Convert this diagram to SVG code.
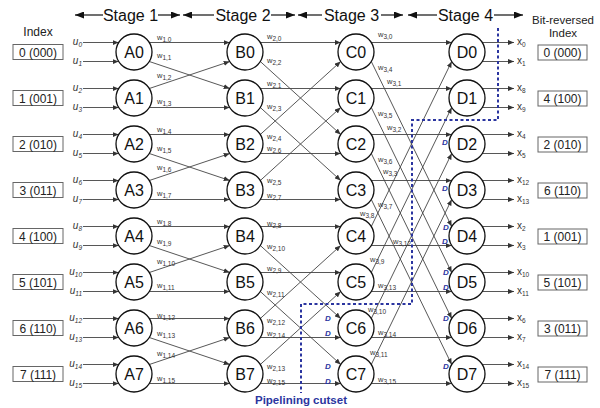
<svg xmlns="http://www.w3.org/2000/svg" width="600" height="408" viewBox="0 0 600 408">
<defs>
<marker id="ah" markerUnits="userSpaceOnUse" markerWidth="6" markerHeight="5" refX="6" refY="2.5" orient="auto"><path d="M0,0 L6,2.5 L0,5 z" fill="#333"/></marker>
<marker id="big" markerUnits="userSpaceOnUse" markerWidth="9" markerHeight="7" refX="9" refY="3.5" orient="auto"><path d="M0,0 L9,3.5 L0,7 z" fill="#111"/></marker>
<style>
text{font-family:"Liberation Sans",Arial,sans-serif}
.e{stroke:#444;stroke-width:0.9;fill:none;marker-end:url(#ah)}
.st{stroke:#111;stroke-width:1.2;marker-end:url(#big)}
.nd circle{fill:#fff;stroke:#111;stroke-width:1.3}
.nd text{font-size:16px;fill:#111;text-anchor:middle}
.box rect{fill:#fff;stroke:#666;stroke-width:1}
.box text{font-size:12px;fill:#222;text-anchor:middle}
.w{font-size:7.5px;fill:#333}
.u{font-size:10px;fill:#333;font-style:italic;text-anchor:end}
.x{font-size:10px;fill:#333}
.s{font-size:6.5px}
.dl{font-size:8px;font-weight:bold;font-style:italic;fill:#2b35a0;text-anchor:middle}
.hd{font-size:16px;fill:#111;text-anchor:middle}
.lab{font-size:12px;fill:#222;text-anchor:middle}
</style>
</defs>
<rect width="600" height="408" fill="#fff"/>

<g id="headers">
<line class="st" x1="103" y1="15" x2="75" y2="15"/><text class="hd" x="130.5" y="21">Stage 1</text><line class="st" x1="158" y1="15" x2="180" y2="15"/>
<line class="st" x1="214" y1="15" x2="183" y2="15"/><text class="hd" x="243" y="21">Stage 2</text><line class="st" x1="271" y1="15" x2="295" y2="15"/>
<line class="st" x1="322" y1="15" x2="298" y2="15"/><text class="hd" x="351.5" y="21">Stage 3</text><line class="st" x1="381" y1="15" x2="403" y2="15"/>
<line class="st" x1="437" y1="15" x2="408" y2="15"/><text class="hd" x="465.5" y="21">Stage 4</text><line class="st" x1="494" y1="15" x2="523" y2="15"/>
<text class="lab" x="38" y="36">Index</text>
<text class="lab" x="563" y="24" style="font-size:11.5px">Bit-reversed</text>
<text class="lab" x="563" y="37" style="font-size:11.5px">Index</text>
</g>

<g id="connectors">
<!-- inputs -->
<line class="e" x1="83" y1="42.5" x2="118.7" y2="42.5"/><line class="e" x1="83" y1="61.5" x2="118.7" y2="61.5"/>
<line class="e" x1="83" y1="88.5" x2="118.7" y2="88.5"/><line class="e" x1="83" y1="107.5" x2="118.7" y2="107.5"/>
<line class="e" x1="83" y1="134.5" x2="118.7" y2="134.5"/><line class="e" x1="83" y1="153.5" x2="118.7" y2="153.5"/>
<line class="e" x1="83" y1="180.5" x2="118.7" y2="180.5"/><line class="e" x1="83" y1="199.5" x2="118.7" y2="199.5"/>
<line class="e" x1="83" y1="226.5" x2="118.7" y2="226.5"/><line class="e" x1="83" y1="245.5" x2="118.7" y2="245.5"/>
<line class="e" x1="83" y1="272.5" x2="118.7" y2="272.5"/><line class="e" x1="83" y1="291.5" x2="118.7" y2="291.5"/>
<line class="e" x1="83" y1="318.5" x2="118.7" y2="318.5"/><line class="e" x1="83" y1="337.5" x2="118.7" y2="337.5"/>
<line class="e" x1="83" y1="364.5" x2="118.7" y2="364.5"/><line class="e" x1="83" y1="383.5" x2="118.7" y2="383.5"/>
<!-- stage 1 -->
<line class="e" x1="149.3" y1="42.5" x2="229.7" y2="42.5"/><line class="e" x1="149.3" y1="61.5" x2="229.7" y2="88.5"/>
<line class="e" x1="149.3" y1="88.5" x2="229.7" y2="61.5"/><line class="e" x1="149.3" y1="107.5" x2="229.7" y2="107.5"/>
<line class="e" x1="149.3" y1="134.5" x2="229.7" y2="134.5"/><line class="e" x1="149.3" y1="153.5" x2="229.7" y2="180.5"/>
<line class="e" x1="149.3" y1="180.5" x2="229.7" y2="153.5"/><line class="e" x1="149.3" y1="199.5" x2="229.7" y2="199.5"/>
<line class="e" x1="149.3" y1="226.5" x2="229.7" y2="226.5"/><line class="e" x1="149.3" y1="245.5" x2="229.7" y2="272.5"/>
<line class="e" x1="149.3" y1="272.5" x2="229.7" y2="245.5"/><line class="e" x1="149.3" y1="291.5" x2="229.7" y2="291.5"/>
<line class="e" x1="149.3" y1="318.5" x2="229.7" y2="318.5"/><line class="e" x1="149.3" y1="337.5" x2="229.7" y2="364.5"/>
<line class="e" x1="149.3" y1="364.5" x2="229.7" y2="337.5"/><line class="e" x1="149.3" y1="383.5" x2="229.7" y2="383.5"/>
<!-- stage 2 -->
<line class="e" x1="260.3" y1="42.5" x2="340.7" y2="42.5"/><line class="e" x1="260.3" y1="61.5" x2="340.7" y2="134.5"/>
<line class="e" x1="260.3" y1="88.5" x2="340.7" y2="88.5"/><line class="e" x1="260.3" y1="107.5" x2="340.7" y2="180.5"/>
<line class="e" x1="260.3" y1="134.5" x2="340.7" y2="61.5"/><line class="e" x1="260.3" y1="153.5" x2="340.7" y2="153.5"/>
<line class="e" x1="260.3" y1="180.5" x2="340.7" y2="107.5"/><line class="e" x1="260.3" y1="199.5" x2="340.7" y2="199.5"/>
<line class="e" x1="260.3" y1="226.5" x2="340.7" y2="226.5"/><line class="e" x1="260.3" y1="245.5" x2="340.7" y2="318.5"/>
<line class="e" x1="260.3" y1="272.5" x2="340.7" y2="272.5"/><line class="e" x1="260.3" y1="291.5" x2="340.7" y2="364.5"/>
<line class="e" x1="260.3" y1="318.5" x2="340.7" y2="245.5"/><line class="e" x1="260.3" y1="337.5" x2="340.7" y2="337.5"/>
<line class="e" x1="260.3" y1="364.5" x2="340.7" y2="291.5"/><line class="e" x1="260.3" y1="383.5" x2="340.7" y2="383.5"/>
<!-- stage 3 -->
<line class="e" x1="371.3" y1="42.5" x2="451.7" y2="42.5"/><line class="e" x1="371.3" y1="61.5" x2="451.7" y2="226.5"/>
<line class="e" x1="371.3" y1="88.5" x2="451.7" y2="88.5"/><line class="e" x1="371.3" y1="107.5" x2="451.7" y2="272.5"/>
<line class="e" x1="371.3" y1="134.5" x2="451.7" y2="134.5"/><line class="e" x1="371.3" y1="153.5" x2="451.7" y2="318.5"/>
<line class="e" x1="371.3" y1="180.5" x2="451.7" y2="180.5"/><line class="e" x1="371.3" y1="199.5" x2="451.7" y2="364.5"/>
<line class="e" x1="371.3" y1="226.5" x2="451.7" y2="61.5"/><line class="e" x1="371.3" y1="245.5" x2="451.7" y2="245.5"/>
<line class="e" x1="371.3" y1="272.5" x2="451.7" y2="107.5"/><line class="e" x1="371.3" y1="291.5" x2="451.7" y2="291.5"/>
<line class="e" x1="371.3" y1="318.5" x2="451.7" y2="153.5"/><line class="e" x1="371.3" y1="337.5" x2="451.7" y2="337.5"/>
<line class="e" x1="371.3" y1="364.5" x2="451.7" y2="199.5"/><line class="e" x1="371.3" y1="383.5" x2="451.7" y2="383.5"/>
<!-- outputs -->
<line class="e" x1="482.3" y1="42.5" x2="514" y2="42.5"/><line class="e" x1="482.3" y1="61.5" x2="514" y2="61.5"/>
<line class="e" x1="482.3" y1="88.5" x2="514" y2="88.5"/><line class="e" x1="482.3" y1="107.5" x2="514" y2="107.5"/>
<line class="e" x1="482.3" y1="134.5" x2="514" y2="134.5"/><line class="e" x1="482.3" y1="153.5" x2="514" y2="153.5"/>
<line class="e" x1="482.3" y1="180.5" x2="514" y2="180.5"/><line class="e" x1="482.3" y1="199.5" x2="514" y2="199.5"/>
<line class="e" x1="482.3" y1="226.5" x2="514" y2="226.5"/><line class="e" x1="482.3" y1="245.5" x2="514" y2="245.5"/>
<line class="e" x1="482.3" y1="272.5" x2="514" y2="272.5"/><line class="e" x1="482.3" y1="291.5" x2="514" y2="291.5"/>
<line class="e" x1="482.3" y1="318.5" x2="514" y2="318.5"/><line class="e" x1="482.3" y1="337.5" x2="514" y2="337.5"/>
<line class="e" x1="482.3" y1="364.5" x2="514" y2="364.5"/><line class="e" x1="482.3" y1="383.5" x2="514" y2="383.5"/>
</g>

<g id="weights" class="w">
<text x="157" y="40">w<tspan class="s" dy="2">1,0</tspan></text><text x="157" y="58">w<tspan class="s" dy="2">1,1</tspan></text>
<text x="157" y="78">w<tspan class="s" dy="2">1,2</tspan></text><text x="157" y="104">w<tspan class="s" dy="2">1,3</tspan></text>
<text x="157" y="132">w<tspan class="s" dy="2">1,4</tspan></text><text x="157" y="151">w<tspan class="s" dy="2">1,5</tspan></text>
<text x="157" y="170">w<tspan class="s" dy="2">1,6</tspan></text><text x="157" y="196">w<tspan class="s" dy="2">1,7</tspan></text>
<text x="157" y="224">w<tspan class="s" dy="2">1,8</tspan></text><text x="157" y="244">w<tspan class="s" dy="2">1,9</tspan></text>
<text x="157" y="264">w<tspan class="s" dy="2">1,10</tspan></text><text x="157" y="288">w<tspan class="s" dy="2">1,11</tspan></text>
<text x="157" y="318">w<tspan class="s" dy="2">1,12</tspan></text><text x="157" y="336">w<tspan class="s" dy="2">1,13</tspan></text>
<text x="157" y="356">w<tspan class="s" dy="2">1,14</tspan></text><text x="157" y="381">w<tspan class="s" dy="2">1,15</tspan></text>
<text x="267" y="39">w<tspan class="s" dy="2">2,0</tspan></text><text x="267" y="63">w<tspan class="s" dy="2">2,2</tspan></text>
<text x="267" y="86">w<tspan class="s" dy="2">2,1</tspan></text><text x="267" y="109">w<tspan class="s" dy="2">2,3</tspan></text>
<text x="267" y="139">w<tspan class="s" dy="2">2,4</tspan></text><text x="267" y="151">w<tspan class="s" dy="2">2,6</tspan></text>
<text x="267" y="183">w<tspan class="s" dy="2">2,5</tspan></text><text x="267" y="198">w<tspan class="s" dy="2">2,7</tspan></text>
<text x="267" y="226">w<tspan class="s" dy="2">2,8</tspan></text><text x="267" y="249">w<tspan class="s" dy="2">2,10</tspan></text>
<text x="267" y="271">w<tspan class="s" dy="2">2,9</tspan></text><text x="267" y="295">w<tspan class="s" dy="2">2,11</tspan></text>
<text x="267" y="323">w<tspan class="s" dy="2">2,12</tspan></text><text x="267" y="336">w<tspan class="s" dy="2">2,14</tspan></text>
<text x="267" y="369">w<tspan class="s" dy="2">2,13</tspan></text><text x="267" y="383">w<tspan class="s" dy="2">2,15</tspan></text>
<text x="378" y="37">w<tspan class="s" dy="2">3,0</tspan></text><text x="378" y="70">w<tspan class="s" dy="2">3,4</tspan></text>
<text x="387" y="84">w<tspan class="s" dy="2">3,1</tspan></text><text x="378" y="116">w<tspan class="s" dy="2">3,5</tspan></text>
<text x="387" y="130">w<tspan class="s" dy="2">3,2</tspan></text><text x="378" y="162">w<tspan class="s" dy="2">3,6</tspan></text>
<text x="383" y="174">w<tspan class="s" dy="2">3,3</tspan></text><text x="378" y="207">w<tspan class="s" dy="2">3,7</tspan></text>
<text x="360" y="216">w<tspan class="s" dy="2">3,8</tspan></text><text x="393" y="244">w<tspan class="s" dy="2">3,12</tspan></text>
<text x="370" y="262">w<tspan class="s" dy="2">3,9</tspan></text><text x="378" y="288">w<tspan class="s" dy="2">3,13</tspan></text>
<text x="368" y="312">w<tspan class="s" dy="2">3,10</tspan></text><text x="378" y="335">w<tspan class="s" dy="2">3,14</tspan></text>
<text x="370" y="355">w<tspan class="s" dy="2">3,11</tspan></text><text x="378" y="382">w<tspan class="s" dy="2">3,15</tspan></text>
</g>

<g id="inputs" class="u">
<text x="82" y="45">u<tspan class="s" dy="2">0</tspan></text><text x="82" y="64">u<tspan class="s" dy="2">1</tspan></text>
<text x="82" y="91">u<tspan class="s" dy="2">2</tspan></text><text x="82" y="110">u<tspan class="s" dy="2">3</tspan></text>
<text x="82" y="137">u<tspan class="s" dy="2">4</tspan></text><text x="82" y="156">u<tspan class="s" dy="2">5</tspan></text>
<text x="82" y="183">u<tspan class="s" dy="2">6</tspan></text><text x="82" y="202">u<tspan class="s" dy="2">7</tspan></text>
<text x="82" y="229">u<tspan class="s" dy="2">8</tspan></text><text x="82" y="248">u<tspan class="s" dy="2">9</tspan></text>
<text x="82" y="275">u<tspan class="s" dy="2">10</tspan></text><text x="82" y="294">u<tspan class="s" dy="2">11</tspan></text>
<text x="82" y="321">u<tspan class="s" dy="2">12</tspan></text><text x="82" y="340">u<tspan class="s" dy="2">13</tspan></text>
<text x="82" y="367">u<tspan class="s" dy="2">14</tspan></text><text x="82" y="386">u<tspan class="s" dy="2">15</tspan></text>
</g>

<g id="outputs" class="x">
<text x="517" y="45">x<tspan class="s" dy="2">0</tspan></text><text x="517" y="64">x<tspan class="s" dy="2">1</tspan></text>
<text x="517" y="91">x<tspan class="s" dy="2">8</tspan></text><text x="517" y="110">x<tspan class="s" dy="2">9</tspan></text>
<text x="517" y="137">x<tspan class="s" dy="2">4</tspan></text><text x="517" y="156">x<tspan class="s" dy="2">5</tspan></text>
<text x="517" y="183">x<tspan class="s" dy="2">12</tspan></text><text x="517" y="202">x<tspan class="s" dy="2">13</tspan></text>
<text x="517" y="229">x<tspan class="s" dy="2">2</tspan></text><text x="517" y="248">x<tspan class="s" dy="2">3</tspan></text>
<text x="517" y="275">x<tspan class="s" dy="2">10</tspan></text><text x="517" y="294">x<tspan class="s" dy="2">11</tspan></text>
<text x="517" y="321">x<tspan class="s" dy="2">6</tspan></text><text x="517" y="340">x<tspan class="s" dy="2">7</tspan></text>
<text x="517" y="367">x<tspan class="s" dy="2">14</tspan></text><text x="517" y="386">x<tspan class="s" dy="2">15</tspan></text>
</g>

<g id="index-in" class="box">
<rect x="13" y="44.5" width="50" height="15"/><text x="38" y="56.5">0 (000)</text>
<rect x="13" y="90.5" width="50" height="15"/><text x="38" y="102.5">1 (001)</text>
<rect x="13" y="136.5" width="50" height="15"/><text x="38" y="148.5">2 (010)</text>
<rect x="13" y="182.5" width="50" height="15"/><text x="38" y="194.5">3 (011)</text>
<rect x="13" y="228.5" width="50" height="15"/><text x="38" y="240.5">4 (100)</text>
<rect x="13" y="274.5" width="50" height="15"/><text x="38" y="286.5">5 (101)</text>
<rect x="13" y="320.5" width="50" height="15"/><text x="38" y="332.5">6 (110)</text>
<rect x="13" y="366.5" width="50" height="15"/><text x="38" y="378.5">7 (111)</text>
</g>
<g id="index-out" class="box">
<rect x="538" y="45" width="49" height="15"/><text x="562.5" y="57">0 (000)</text>
<rect x="538" y="91" width="49" height="15"/><text x="562.5" y="103">4 (100)</text>
<rect x="538" y="137" width="49" height="15"/><text x="562.5" y="149">2 (010)</text>
<rect x="538" y="183" width="49" height="15"/><text x="562.5" y="195">6 (110)</text>
<rect x="538" y="229" width="49" height="15"/><text x="562.5" y="241">1 (001)</text>
<rect x="538" y="275" width="49" height="15"/><text x="562.5" y="287">5 (101)</text>
<rect x="538" y="321" width="49" height="15"/><text x="562.5" y="333">3 (011)</text>
<rect x="538" y="367" width="49" height="15"/><text x="562.5" y="379">7 (111)</text>
</g>

<g id="A0" class="nd"><circle cx="134" cy="52" r="18"/><text x="134" y="58">A0</text></g>
<g id="A1" class="nd"><circle cx="134" cy="98" r="18"/><text x="134" y="104">A1</text></g>
<g id="A2" class="nd"><circle cx="134" cy="144" r="18"/><text x="134" y="150">A2</text></g>
<g id="A3" class="nd"><circle cx="134" cy="190" r="18"/><text x="134" y="196">A3</text></g>
<g id="A4" class="nd"><circle cx="134" cy="236" r="18"/><text x="134" y="242">A4</text></g>
<g id="A5" class="nd"><circle cx="134" cy="282" r="18"/><text x="134" y="288">A5</text></g>
<g id="A6" class="nd"><circle cx="134" cy="328" r="18"/><text x="134" y="334">A6</text></g>
<g id="A7" class="nd"><circle cx="134" cy="374" r="18"/><text x="134" y="380">A7</text></g>
<g id="B0" class="nd"><circle cx="245" cy="52" r="18"/><text x="245" y="58">B0</text></g>
<g id="B1" class="nd"><circle cx="245" cy="98" r="18"/><text x="245" y="104">B1</text></g>
<g id="B2" class="nd"><circle cx="245" cy="144" r="18"/><text x="245" y="150">B2</text></g>
<g id="B3" class="nd"><circle cx="245" cy="190" r="18"/><text x="245" y="196">B3</text></g>
<g id="B4" class="nd"><circle cx="245" cy="236" r="18"/><text x="245" y="242">B4</text></g>
<g id="B5" class="nd"><circle cx="245" cy="282" r="18"/><text x="245" y="288">B5</text></g>
<g id="B6" class="nd"><circle cx="245" cy="328" r="18"/><text x="245" y="334">B6</text></g>
<g id="B7" class="nd"><circle cx="245" cy="374" r="18"/><text x="245" y="380">B7</text></g>
<g id="C0" class="nd"><circle cx="356" cy="52" r="18"/><text x="356" y="58">C0</text></g>
<g id="C1" class="nd"><circle cx="356" cy="98" r="18"/><text x="356" y="104">C1</text></g>
<g id="C2" class="nd"><circle cx="356" cy="144" r="18"/><text x="356" y="150">C2</text></g>
<g id="C3" class="nd"><circle cx="356" cy="190" r="18"/><text x="356" y="196">C3</text></g>
<g id="C4" class="nd"><circle cx="356" cy="236" r="18"/><text x="356" y="242">C4</text></g>
<g id="C5" class="nd"><circle cx="356" cy="282" r="18"/><text x="356" y="288">C5</text></g>
<g id="C6" class="nd"><circle cx="356" cy="328" r="18"/><text x="356" y="334">C6</text></g>
<g id="C7" class="nd"><circle cx="356" cy="374" r="18"/><text x="356" y="380">C7</text></g>
<g id="D0" class="nd"><circle cx="467" cy="52" r="18"/><text x="467" y="58">D0</text></g>
<g id="D1" class="nd"><circle cx="467" cy="98" r="18"/><text x="467" y="104">D1</text></g>
<g id="D2" class="nd"><circle cx="467" cy="144" r="18"/><text x="467" y="150">D2</text></g>
<g id="D3" class="nd"><circle cx="467" cy="190" r="18"/><text x="467" y="196">D3</text></g>
<g id="D4" class="nd"><circle cx="467" cy="236" r="18"/><text x="467" y="242">D4</text></g>
<g id="D5" class="nd"><circle cx="467" cy="282" r="18"/><text x="467" y="288">D5</text></g>
<g id="D6" class="nd"><circle cx="467" cy="328" r="18"/><text x="467" y="334">D6</text></g>
<g id="D7" class="nd"><circle cx="467" cy="374" r="18"/><text x="467" y="380">D7</text></g>

<g id="cutset">
<path d="M498,28 V120 H412 V304 H301 V393" fill="none" stroke="#2b35a0" stroke-width="2" stroke-dasharray="3,2.5"/>
<text x="301" y="404" style="font-size:11.5px;font-weight:bold;fill:#2b35a0;text-anchor:middle">Pipelining cutset</text>
</g>
<g id="delays" class="dl">
<text x="445" y="145">D</text><text x="445" y="191">D</text>
<text x="446" y="230">D</text><text x="445" y="244">D</text>
<text x="446" y="275">D</text><text x="446" y="290">D</text>
<text x="446" y="321">D</text><text x="446" y="369">D</text>
<text x="328" y="321">D</text><text x="328" y="336">D</text>
<text x="328" y="369">D</text><text x="328" y="384">D</text>
</g>
</svg>
